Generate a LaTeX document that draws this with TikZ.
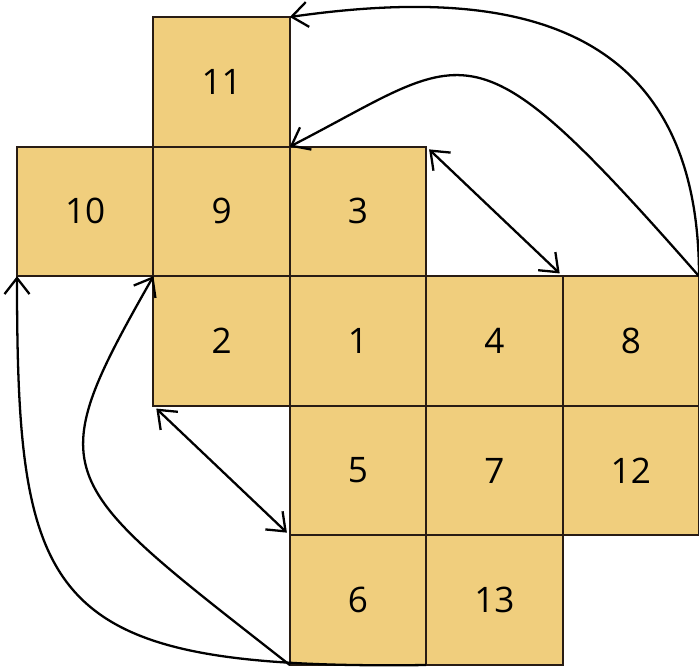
\documentclass[tikz,border=0pt]{standalone}
\usepackage{fontspec}
\setmainfont{Open Sans}
\usepackage{tikz}
\usetikzlibrary{arrows.meta,positioning}
\definecolor{netfill}{RGB}{240,206,125}
\definecolor{netline}{RGB}{40,28,20}

\tikzset{
  face/.style={draw=netline, fill=netfill, line width=1.1pt,
    minimum width=2.728cm, minimum height=2.592cm, inner sep=0pt, outer sep=0pt,
    font=\fontsize{20}{24}\selectfont},
  fold/.style={line width=1.3pt, -{Straight Barb[length=3.2mm,width=5mm]}},
  swap/.style={line width=1.3pt, {Straight Barb[length=3.2mm,width=5mm]}-{Straight Barb[length=3.2mm,width=5mm]},
    shorten <=0.8mm, shorten >=0.8mm}
}

\begin{document}
\begin{tikzpicture}[x=2.728cm, y=2.592cm]
    \useasboundingbox (-0.34cm,0.34cm) rectangle (13.64cm,-13.02cm);
    % the net of faces, column / row / label
    \foreach \c/\r/\n in {1/0/11, 0/1/10, 1/1/9, 2/1/3, 1/2/2, 2/2/1, 3/2/4, 4/2/8,
                          2/3/5, 3/3/7, 4/3/12, 2/4/6, 3/4/13}
        \node[face] (c\n) at (\c+0.5,-\r-0.5) {\n};
    % edges that meet when folded
    \draw[fold] (c8.north east) .. controls +(0cm,5.5cm) and +(3.8cm,0.54cm) .. (c11.north east);
    \draw[fold] (c8.north east) .. controls +(-4.62cm,5.26cm) and +(3.66cm,1.88cm) .. (c9.north east);
    \draw[fold] (c6.south east) .. controls +(-7.6cm,-0.1cm) and +(0cm,-6.6cm) .. (c10.south west);
    \draw[fold] (c6.south west) .. controls +(-4.74cm,3.72cm) and +(-2.3cm,-4.04cm) .. (c9.south west);
    \draw[swap] (c3.north east) -- (c4.north east);
    \draw[swap] (c2.south west) -- (c5.south west);
\end{tikzpicture}
\end{document}
